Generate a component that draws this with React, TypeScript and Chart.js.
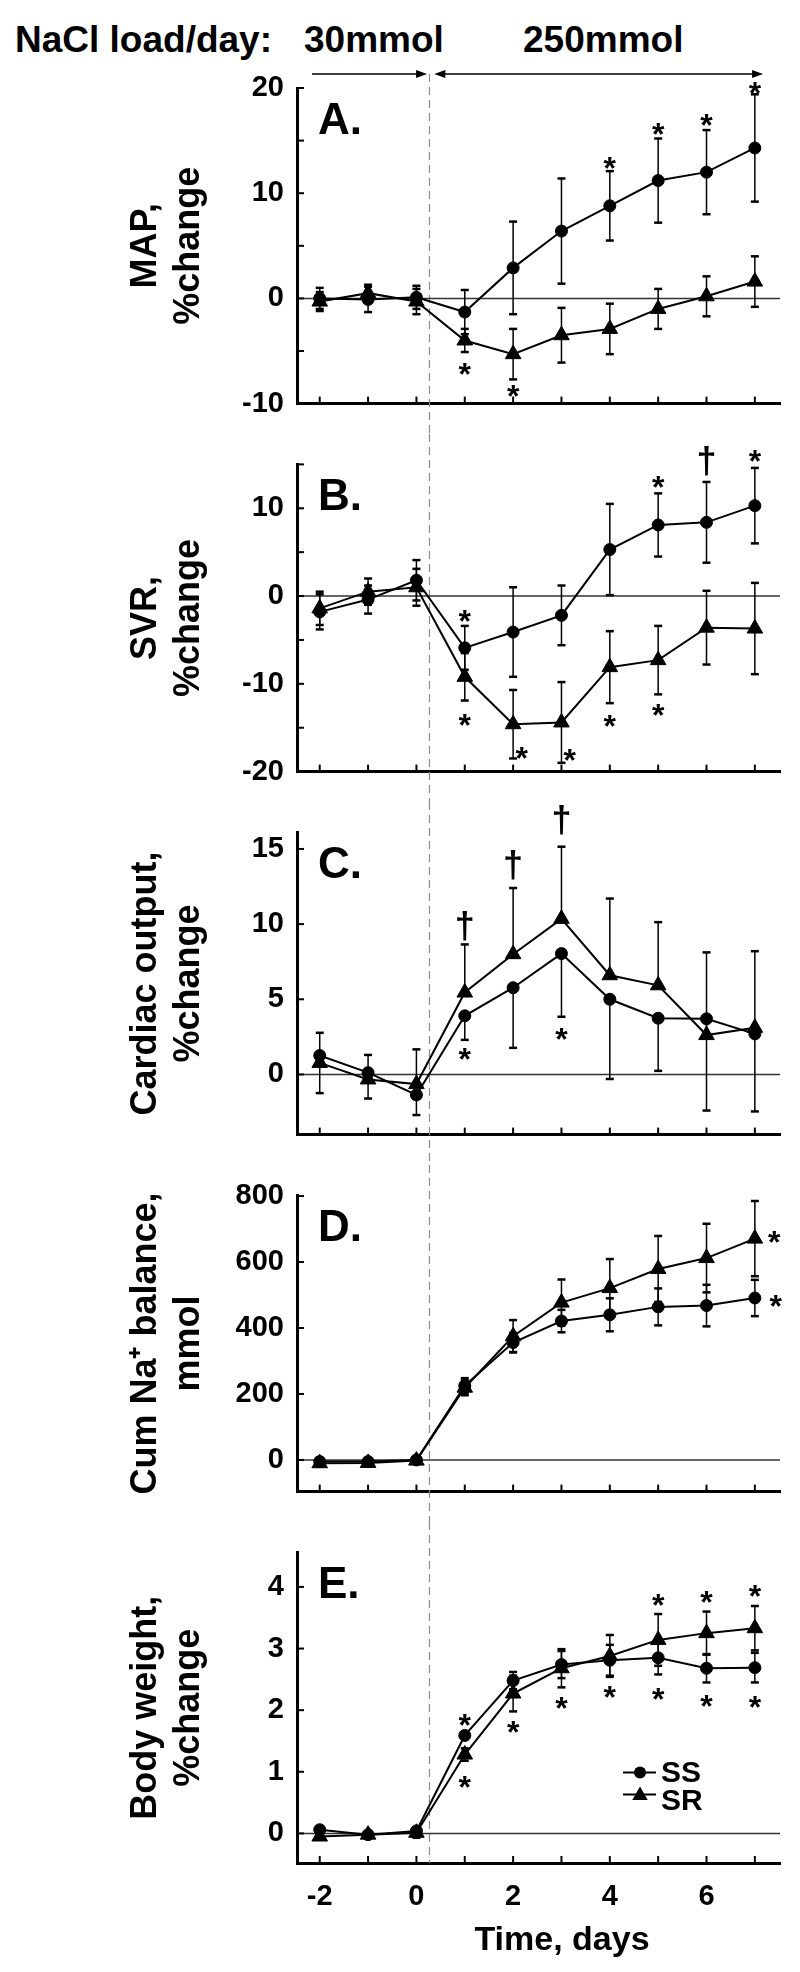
import React, { useEffect, useRef } from 'react';
import { Chart, registerables } from 'chart.js';

Chart.register(...registerables);

const FONT = "'Liberation Sans', Arial, Helvetica, sans-serif";

// ---------- shared axis / annotation data ----------
const DAYS = [-2, -1, 0, 1, 2, 3, 4, 5, 6, 7];
const X_TICKS = [-2, -1, 0, 1, 2, 3, 4, 5, 6, 7];
const X_TICK_LABELS = [-2, 0, 2, 4, 6];
const X_RANGE = [-2.47, 7.52];
const DIET_SWITCH_DAY = 0.27;
const ARROW_30 = [-2.16, 0.22];
const ARROW_250 = [0.37, 7.17];
const HEADER = ['NaCl load/day:', '30mmol', '250mmol'];
const SERIES_NAMES = ['SS', 'SR'];
const X_TITLE = 'Time, days';

// ---------- A. MAP ----------
const MAP_SS = [0.0, -0.1, 0.1, -1.3, 2.9, 6.4, 8.8, 11.2, 12.0, 14.3];
const MAP_SR = [-0.3, 0.5, -0.3, -4.0, -5.3, -3.5, -2.9, -1.0, 0.2, 1.6];
const MAP_SS_ERR = [1.0, 1.2, 1.1, 2.1, 4.4, 5.0, 3.3, 4.0, 4.0, 5.1];
const MAP_SR_ERR = [0.9, 0.8, 1.2, 1.1, 2.4, 2.6, 2.4, 1.9, 1.9, 2.4];
const MAP_TICKS = [-10, -5, 0, 5, 10, 15, 20];
const MAP_TICK_LABELS = [-10, 0, 10, 20];
const MAP_MARKS: [number, number, string][] = [
  [1, -6.5, '*'], [2, -8.6, '*'], [4, 13.1, '*'], [5, 16.3, '*'], [6, 17.2, '*'], [7, 20.2, '*'],
];

// ---------- B. SVR ----------
const SVR_SS = [-1.8, -0.4, 1.8, -5.9, -4.1, -2.2, 5.3, 8.1, 8.4, 10.3];
const SVR_SR = [-1.4, 0.5, 1.0, -9.2, -14.6, -14.4, -8.1, -7.3, -3.6, -3.7];
const SVR_SS_ERR = [2.0, 1.6, 2.3, 2.5, 5.1, 3.4, 5.2, 3.6, 4.6, 4.3];
const SVR_SR_ERR = [1.9, 1.5, 2.1, 2.7, 3.9, 4.6, 4.1, 3.9, 4.2, 5.2];
const SVR_TICKS = [-20, -15, -10, -5, 0, 5, 10, 15];
const SVR_TICK_LABELS = [-20, -10, 0, 10];
const SVR_MARKS: [number, number, string][] = [
  [1, -2.0, '*'], [1, -13.8, '*'], [2.18, -17.6, '*'], [3.17, -17.8, '*'], [4, -13.9, '*'],
  [5, 13.3, '*'], [5, -12.7, '*'], [6, 15.2, '†'], [7, 16.2, '*'],
];

// ---------- C. Cardiac output ----------
const CO_SS = [1.26, 0.12, -1.36, 3.9, 5.77, 8.04, 5.0, 3.74, 3.7, 2.7];
const CO_SR = [0.77, -0.33, -0.64, 5.45, 8.0, 10.35, 6.6, 5.93, 2.62, 3.1];
const CO_SS_ERR = [2.5, 1.72, 1.34, 1.6, 4.0, 4.2, 5.3, 3.5, 6.1, 5.16];
const CO_SR_ERR = [2.0, 1.63, 2.31, 3.2, 4.4, 4.8, 5.1, 4.2, 5.5, 5.1];
const CO_TICKS = [0, 5, 10, 15];
const CO_TICK_LABELS = [0, 5, 10, 15];
const CO_MARKS: [number, number, string][] = [
  [1, 9.8, '†'], [2, 13.8, '†'], [3, 16.8, '†'], [1, 1.55, '*'], [3, 2.85, '*'],
];

// ---------- D. Cum Na+ balance ----------
const NA_SS = [-5, -5, 0, 225, 356, 421, 440, 464, 468, 491];
const NA_SR = [-10, -9, -2, 219, 375, 477, 521, 579, 612, 671];
const NA_SS_ERR = [0, 0, 0, 23, 29, 34, 50, 56, 63, 55];
const NA_SR_ERR = [0, 0, 0, 23, 49, 70, 88, 100, 104, 114];
const NA_TICKS = [0, 200, 400, 600, 800];
const NA_TICK_LABELS = [0, 200, 400, 600, 800];
const NA_MARKS: [number, number, string][] = [[7.4, 683, '*'], [7.43, 489, '*']];

// ---------- E. Body weight ----------
const BW_SS = [0.06, -0.02, 0.04, 1.59, 2.48, 2.74, 2.81, 2.85, 2.68, 2.69];
const BW_SR = [-0.05, -0.02, 0.01, 1.28, 2.27, 2.68, 2.88, 3.14, 3.25, 3.33];
const BW_SS_ERR = [0.05, 0.03, 0.05, 0.05, 0.14, 0.22, 0.25, 0.27, 0.23, 0.24];
const BW_SR_ERR = [0.05, 0.04, 0.08, 0.1, 0.29, 0.31, 0.34, 0.42, 0.35, 0.36];
const BW_TICKS = [0, 1, 2, 3, 4];
const BW_TICK_LABELS = [0, 1, 2, 3, 4];
const BW_MARKS: [number, number, string][] = [
  [1, 1.89, '*'], [1, 0.88, '*'], [2, 1.77, '*'], [3, 2.16, '*'], [4, 2.34, '*'],
  [5, 3.83, '*'], [5, 2.31, '*'], [6, 3.88, '*'], [6, 2.19, '*'], [7, 3.98, '*'], [7, 2.17, '*'],
];

// ---------- layout (page pixels) ----------
const LAYOUT = [
  { top: 0, bottom: 434, chartTop: 88, chartBottom: 412 },
  { top: 434, bottom: 802, chartTop: 455, chartBottom: 780 },
  { top: 802, bottom: 1165, chartTop: 823, chartBottom: 1148 },
  { top: 1165, bottom: 1522, chartTop: 1182, chartBottom: 1506 },
  { top: 1522, bottom: 1972, chartTop: 1538, chartBottom: 1863 },
];

type PanelCfg = {
  letter: string; title: string[]; yMin: number; yMax: number;
  yTicks: number[]; yLabels: number[];
  ss: number[]; sr: number[]; ssErr: number[]; srErr: number[];
  ssMode: 'both' | 'up' | 'down'; srMode: 'both' | 'up' | 'down';
  marks: [number, number, string][]; layout: typeof LAYOUT[0];
  first: boolean; last: boolean;
};

const PANELS: PanelCfg[] = [
  { letter: 'A.', title: ['MAP,', '%change'], yMin: -10, yMax: 20, yTicks: MAP_TICKS, yLabels: MAP_TICK_LABELS,
    ss: MAP_SS, sr: MAP_SR, ssErr: MAP_SS_ERR, srErr: MAP_SR_ERR, ssMode: 'both', srMode: 'both',
    marks: MAP_MARKS, layout: LAYOUT[0], first: true, last: false },
  { letter: 'B.', title: ['SVR,', '%change'], yMin: -20, yMax: 15, yTicks: SVR_TICKS, yLabels: SVR_TICK_LABELS,
    ss: SVR_SS, sr: SVR_SR, ssErr: SVR_SS_ERR, srErr: SVR_SR_ERR, ssMode: 'both', srMode: 'both',
    marks: SVR_MARKS, layout: LAYOUT[1], first: false, last: false },
  { letter: 'C.', title: ['Cardiac output,', '%change'], yMin: -4, yMax: 16.1, yTicks: CO_TICKS, yLabels: CO_TICK_LABELS,
    ss: CO_SS, sr: CO_SR, ssErr: CO_SS_ERR, srErr: CO_SR_ERR, ssMode: 'down', srMode: 'up',
    marks: CO_MARKS, layout: LAYOUT[2], first: false, last: false },
  { letter: 'D.', title: ['Cum Na\u207A balance,', 'mmol'], yMin: -96, yMax: 802, yTicks: NA_TICKS, yLabels: NA_TICK_LABELS,
    ss: NA_SS, sr: NA_SR, ssErr: NA_SS_ERR, srErr: NA_SR_ERR, ssMode: 'both', srMode: 'both',
    marks: NA_MARKS, layout: LAYOUT[3], first: false, last: false },
  { letter: 'E.', title: ['Body weight,', '%change'], yMin: -0.48, yMax: 4.56, yTicks: BW_TICKS, yLabels: BW_TICK_LABELS,
    ss: BW_SS, sr: BW_SR, ssErr: BW_SS_ERR, srErr: BW_SR_ERR, ssMode: 'both', srMode: 'both',
    marks: BW_MARKS, layout: LAYOUT[4], first: false, last: true },
];

function drawTriangle(ctx: CanvasRenderingContext2D, x: number, y: number, r: number) {
  ctx.beginPath();
  ctx.moveTo(x, y - r);
  ctx.lineTo(x + Math.sin((2 * Math.PI) / 3) * r, y + r / 2);
  ctx.lineTo(x - Math.sin((2 * Math.PI) / 3) * r, y + r / 2);
  ctx.closePath();
  ctx.fill();
}

function decorPlugin(p: PanelCfg) {
  const seg = (ctx: CanvasRenderingContext2D, x1: number, y1: number, x2: number, y2: number) => {
    ctx.beginPath(); ctx.moveTo(x1, y1); ctx.lineTo(x2, y2); ctx.stroke();
  };
  return {
    id: 'decor' + p.letter,
    beforeDatasetsDraw(chart: any) {
      const { ctx, chartArea: ca } = chart;
      const x = chart.scales.x, y = chart.scales.y;
      ctx.save();
      // diet switch divider
      const xd = x.getPixelForValue(DIET_SWITCH_DAY);
      ctx.strokeStyle = '#8a8a8a'; ctx.lineWidth = 1.2; ctx.setLineDash([8, 5]);
      seg(ctx, xd, p.first ? ca.top - 14 : 0, xd, p.last ? ca.bottom : chart.height);
      ctx.setLineDash([]);
      // zero line
      const y0 = y.getPixelForValue(0);
      ctx.strokeStyle = '#333'; ctx.lineWidth = 1.5;
      seg(ctx, ca.left, y0, ca.right, y0);
      // error bars
      ctx.strokeStyle = '#000';
      const bars = (vals: number[], errs: number[], mode: string) => {
        vals.forEach((v, i) => {
          const e = errs[i];
          if (!e) return;
          const px = x.getPixelForValue(DAYS[i]);
          const pv = y.getPixelForValue(v);
          const ends: number[] = [];
          if (mode !== 'down') ends.push(v + e);
          if (mode !== 'up') ends.push(v - e);
          ends.forEach((end) => {
            const pe = y.getPixelForValue(end);
            ctx.lineWidth = 1.5; seg(ctx, px, pv, px, pe);
            ctx.lineWidth = 2.5; seg(ctx, px - 4, pe, px + 4, pe);
          });
        });
      };
      bars(p.ss, p.ssErr, p.ssMode);
      bars(p.sr, p.srErr, p.srMode);
      ctx.restore();
    },
    afterDraw(chart: any) {
      const { ctx, chartArea: ca } = chart;
      const x = chart.scales.x, y = chart.scales.y;
      ctx.save();
      ctx.strokeStyle = '#000'; ctx.fillStyle = '#000';
      // inward tick marks
      ctx.lineWidth = 2;
      p.yTicks.forEach((v) => { const py = y.getPixelForValue(v); seg(ctx, ca.left, py, ca.left + 7, py); });
      X_TICKS.forEach((v) => { const px = x.getPixelForValue(v); seg(ctx, px, ca.bottom, px, ca.bottom - 7); });
      // panel letter
      ctx.font = `bold 44px ${FONT}`; ctx.textAlign = 'left'; ctx.textBaseline = 'alphabetic';
      ctx.fillText(p.letter, ca.left + 21, ca.top + 46);
      // significance marks
      ctx.textAlign = 'center';
      p.marks.forEach(([mx, my, s]) => {
        const px = x.getPixelForValue(mx), py = y.getPixelForValue(my);
        if (s === '*') { ctx.font = `bold 32px ${FONT}`; ctx.fillText('*', px, py + 0.58 * 32); }
        else { ctx.font = `bold 36px ${FONT}`; ctx.fillText(s, px, py + 0.29 * 36); }
      });
      // header arrows
      if (p.first) {
        const ya = ca.top - 14;
        const head = (tipX: number, dir: number) => {
          ctx.beginPath(); ctx.moveTo(tipX, ya); ctx.lineTo(tipX - dir * 11, ya - 4); ctx.lineTo(tipX - dir * 11, ya + 4);
          ctx.closePath(); ctx.fill();
        };
        ctx.lineWidth = 1.5;
        const a0 = x.getPixelForValue(ARROW_30[0]), a1 = x.getPixelForValue(ARROW_30[1]);
        seg(ctx, a0, ya, a1 - 4, ya); head(a1, 1);
        const b0 = x.getPixelForValue(ARROW_250[0]), b1 = x.getPixelForValue(ARROW_250[1]);
        seg(ctx, b0 + 4, ya, b1 - 4, ya); head(b0, -1); head(b1, 1);
      }
      if (p.last) {
        // legend
        const lx = ca.left + 326, rowSS = ca.top + 220, rowSR = ca.top + 243;
        ctx.lineWidth = 2;
        seg(ctx, lx, rowSS, lx + 33, rowSS);
        ctx.beginPath(); ctx.arc(lx + 17, rowSS, 6, 0, Math.PI * 2); ctx.fill();
        seg(ctx, lx, rowSR - 1, lx + 33, rowSR - 1);
        drawTriangle(ctx, lx + 17, rowSR, 9);
        ctx.font = `bold 30px ${FONT}`; ctx.textAlign = 'left'; ctx.textBaseline = 'alphabetic';
        ctx.fillText(SERIES_NAMES[0], lx + 38, rowSS + 10);
        ctx.fillText(SERIES_NAMES[1], lx + 38, rowSR + 15);
        // x title
        ctx.font = `bold 34px ${FONT}`; ctx.textAlign = 'center';
        ctx.fillText(X_TITLE, ca.left + 265, ca.bottom + 87);
      }
      ctx.restore();
    },
  };
}

function buildConfig(p: PanelCfg): any {
  const L = p.layout;
  const tickFont = { family: FONT, size: 29, weight: 'bold' as const };
  const ds = (name: string, vals: number[], style: string, r: number) => ({
    label: name,
    data: DAYS.map((d, i) => ({ x: d, y: vals[i] })),
    borderColor: '#000', backgroundColor: '#000', borderWidth: 2,
    pointStyle: style, pointRadius: r, pointHoverRadius: r, pointBorderWidth: 1,
    pointBackgroundColor: '#000', pointBorderColor: '#000',
    tension: 0, clip: false,
  });
  return {
    type: 'line',
    data: { datasets: [ds(SERIES_NAMES[0], p.ss, 'circle', 6), ds(SERIES_NAMES[1], p.sr, 'triangle', 9)] },
    options: {
      responsive: false, maintainAspectRatio: false, animation: false, events: [],
      layout: { padding: { top: L.chartTop - L.top, right: 20, bottom: 0, left: 0 } },
      plugins: { legend: { display: false }, tooltip: { enabled: false } },
      scales: {
        x: {
          type: 'linear', min: X_RANGE[0], max: X_RANGE[1],
          grid: { display: true, drawOnChartArea: false, drawTicks: false },
          border: { display: true, color: '#000', width: 3 },
          ticks: {
            display: p.last, autoSkip: false, maxRotation: 0, minRotation: 0, padding: 17, color: '#000', font: tickFont,
            callback: (v: number) => (X_TICK_LABELS.includes(v) ? String(v) : ''),
          },
          afterBuildTicks: (s: any) => { s.ticks = X_TICKS.map((v) => ({ value: v })); },
          afterFit: (s: any) => { s.height = L.bottom - L.chartBottom; },
        },
        y: {
          type: 'linear', min: p.yMin, max: p.yMax,
          grid: { display: true, drawOnChartArea: false, drawTicks: false },
          border: { display: true, color: '#000', width: 3 },
          ticks: {
            autoSkip: false, padding: 13, color: '#000', font: tickFont,
            callback: (v: number) => (p.yLabels.includes(v) ? String(v) : ''),
          },
          afterBuildTicks: (s: any) => { s.ticks = p.yTicks.map((v) => ({ value: v })); },
          afterFit: (s: any) => { s.width = 297; },
          title: {
            display: true, text: p.title, color: '#000',
            font: { family: FONT, size: 36, weight: 'bold', lineHeight: '43px' },
            padding: { top: 125, bottom: 0 },
          },
        },
      },
    },
    plugins: [decorPlugin(p)],
  };
}

function Panel({ cfg }: { cfg: PanelCfg }) {
  const ref = useRef<HTMLCanvasElement>(null);
  useEffect(() => {
    const chart = new Chart(ref.current as HTMLCanvasElement, buildConfig(cfg));
    return () => chart.destroy();
  }, [cfg]);
  const h = cfg.layout.bottom - cfg.layout.top;
  return (
    <canvas
      ref={ref}
      width={800}
      height={h}
      style={{ position: 'absolute', left: 0, top: cfg.layout.top, width: 800, height: h }}
    />
  );
}

export default function App() {
  const headStyle = (left: number): React.CSSProperties => ({
    position: 'absolute', left, top: 21, font: `bold 37px/37px ${FONT}`, color: '#000', whiteSpace: 'nowrap',
  });
  return (
    <div style={{ position: 'absolute', left: 0, top: 0, width: 800, height: 1972, background: '#fff' }}>
      <div style={headStyle(15)}>{HEADER[0]}</div>
      <div style={headStyle(304)}>{HEADER[1]}</div>
      <div style={headStyle(523)}>{HEADER[2]}</div>
      {PANELS.map((p) => (
        <Panel key={p.letter} cfg={p} />
      ))}
    </div>
  );
}
